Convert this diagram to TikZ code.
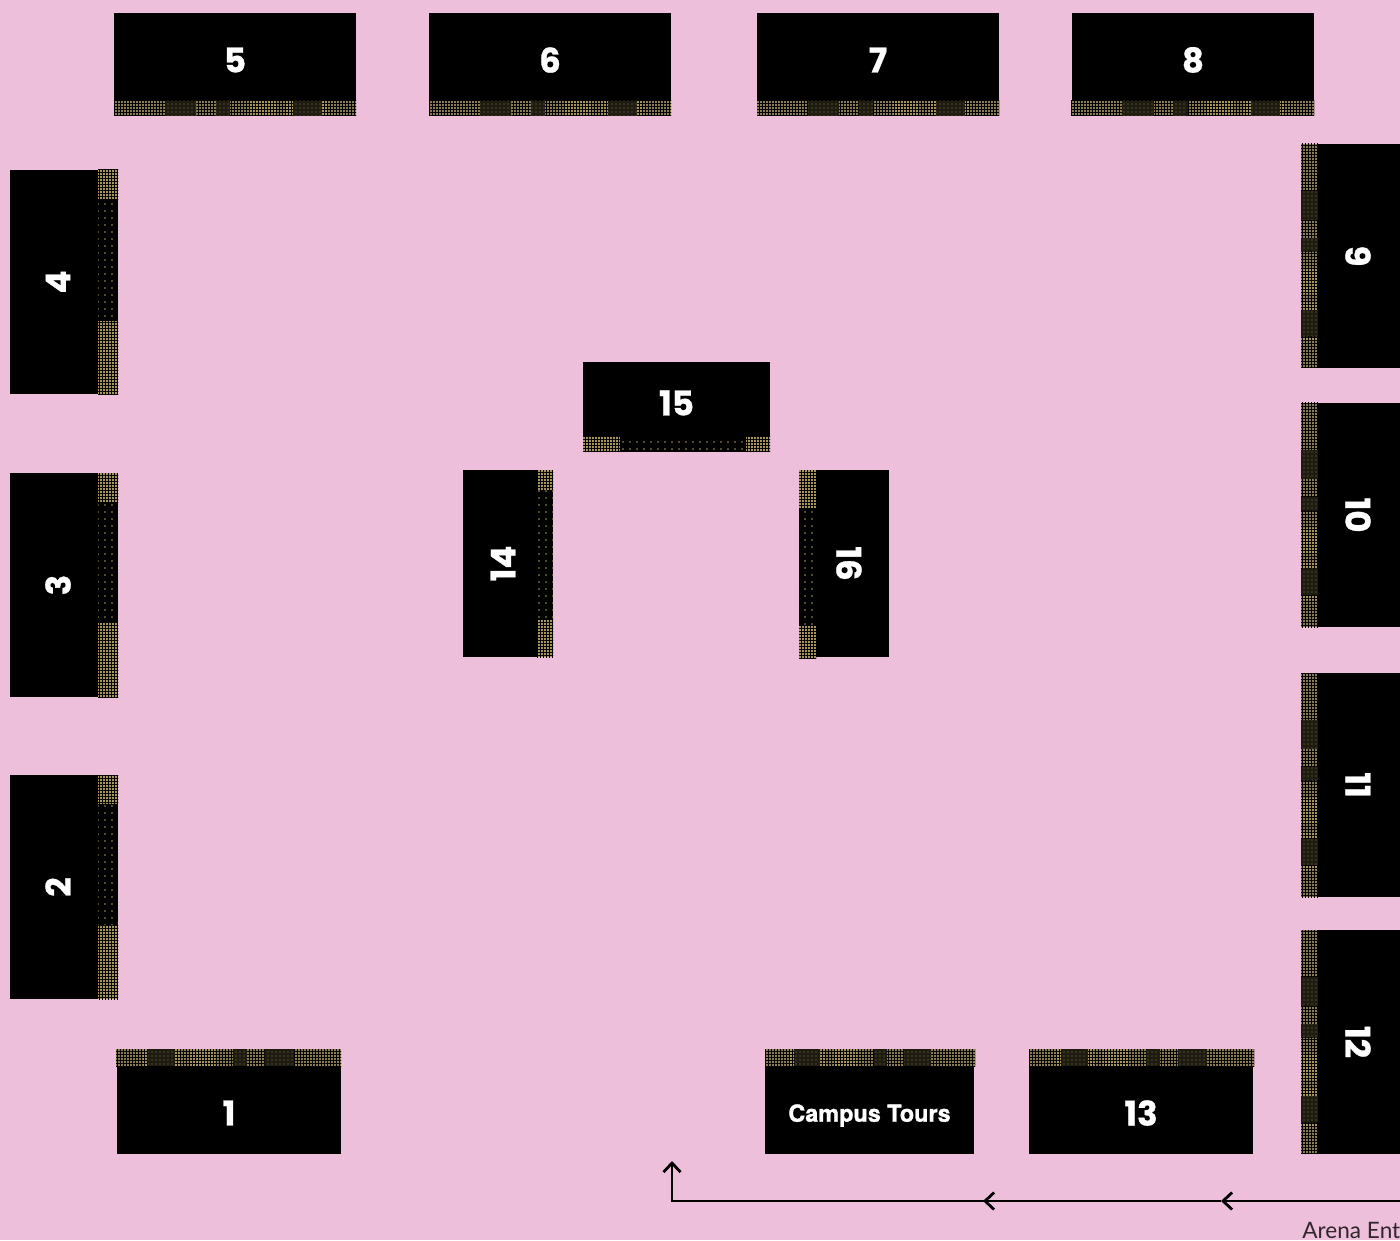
\documentclass[tikz,border=0pt]{standalone}
\usepackage{fontspec}
\setmainfont{Poppins}[BoldFeatures={FakeBold=0.8}]
\newfontfamily\signfont{Lato}
\newfontfamily\toursfont{TeX Gyre Heros}[BoldFeatures={FakeBold=1.2}]
\usetikzlibrary{calc,arrows.meta,patterns.meta}
\definecolor{floorpink}{HTML}{EEBFDA}
\definecolor{gold}{HTML}{A8955A}
\definecolor{olive}{HTML}{8A7B50}
\definecolor{murk}{HTML}{1E1B10}
\newcommand{\denselist}{0/.21/dull,.21/.34/dark,.34/.42/dull,.42/.48/dark,.48/.56/dull,.56/.67/bright,.67/.71/dull,.71/.74/bright,.74/.86/dark,.86/.88/bright,.88/1/dull}
\newcommand{\sidelist}{0/.13/bright,.13/.67/spark,.67/1/bright}
\newcommand{\frontlist}{0/.2/bright,.2/.87/spark,.87/1/bright}
\newcommand{\leftlist}{0/.11/bright,.11/.8/spark,.8/1/bright}
\newcommand{\rightlist}{0/.2/bright,.2/.83/spark,.83/1/bright}
% bands run from the first corner, tones follow that direction
\newcommand{\band}[5]{%
  \foreach \a/\b/\tone in #1 {\fill[\tone] ($(#2)!\a!(#3)$) rectangle ($(#4)!\b!(#5)$);}
}
\newcommand{\hband}[5]{\band{#1}{#2,#3}{#4,#3}{#2,#5}{#4,#5}}
\newcommand{\vband}[5]{\band{#1}{#2,#3}{#2,#5}{#4,#3}{#4,#5}}
\begin{document}
\begin{tikzpicture}[
    x=0.5pt, y=-0.5pt,
    stall/.style={fill=black, text=white, inner sep=0pt, font=\fontsize{17}{20}\selectfont\bfseries},
    wide/.style={stall, minimum width=121pt, minimum height=47pt},
    low/.style={stall, minimum width=112pt, minimum height=41pt},
    tall/.style={stall, minimum width=112pt, minimum height=48pt, rotate=90},
    rtall/.style={stall, minimum width=112pt, minimum height=44pt, rotate=-90},
    grainv/.style={postaction={pattern={Hatch[distance=1.5pt, line width=.2pt, angle=0]}, pattern color=black}},
    grainh/.style={postaction={pattern={Hatch[distance=1.5pt, line width=.2pt, angle=90]}, pattern color=black}},
    bright/.style={fill=gold, grainv, grainh},
    dull/.style={fill=olive, grainv, grainh},
    dark/.style={fill=murk, postaction={pattern={Dots[distance=2pt, radius=.3pt]}, pattern color=olive}},
    spark/.style={fill=black, postaction={pattern={Dots[distance=3.5pt, radius=.45pt]}, pattern color=gold}},
    arr/.style={-{Straight Barb[length=4.5pt, width=8.5pt]}, line width=1.4pt},
]
\useasboundingbox (0,0) rectangle (1400,1240);
\fill[floorpink] (0,0) rectangle (1400,1240);

% top row
\node[wide] (s5) at (235,60) {5};
\node[wide] (s6) at (550,60) {6};
\node[wide] (s7) at (878,60) {7};
\node[wide] (s8) at (1193,60) {8};
\hband{\denselist}{114}{101}{356}{116}
\hband{\denselist}{429}{101}{671}{116}
\hband{\denselist}{757}{101}{999}{116}
\hband{\denselist}{1071}{101}{1314}{116}

% left column
\node[tall] (s4) at (58,282) {4};
\node[tall] (s3) at (58,585) {3};
\node[tall] (s2) at (58,887) {2};
\vband{\sidelist}{98}{170}{118}{395}
\vband{\sidelist}{98}{473}{118}{697}
\vband{\sidelist}{98}{775}{118}{999}

% right column
\node[rtall] (s9) at (1358,256) {9};
\node[rtall] (s10) at (1358,515) {10};
\node[rtall] (s11) at (1358,785) {11};
\node[rtall] (s12) at (1358,1042) {12};
\vband{\denselist}{1301}{144}{1318}{368}
\vband{\denselist}{1301}{403}{1318}{627}
\vband{\denselist}{1301}{673}{1318}{897}
\vband{\denselist}{1301}{930}{1318}{1154}

% bottom row
\node[low] (s1) at (229,1113) {1};
\node[stall, minimum width=104.5pt, minimum height=41pt, text depth=0pt, font=\toursfont\fontsize{11.7}{14}\selectfont\bfseries] (tours) at (869.5,1113) {Campus Tours};
\node[low] (s13) at (1141,1113) {13};
\fill (117,1066) rectangle (341,1073);
\fill (765,1066) rectangle (974,1073);
\fill (1029,1066) rectangle (1253,1073);
\hband{\denselist}{341}{1049}{116}{1066}
\hband{\denselist}{975}{1049}{765}{1066}
\hband{\denselist}{1254}{1049}{1029}{1066}

% centre group
\node[stall, minimum width=93.5pt, minimum height=41pt] (s15) at (676.5,403) {15};
\node[stall, minimum width=93.5pt, minimum height=40pt, rotate=90] (s14) at (503,563.5) {14};
\node[stall, minimum width=93.5pt, minimum height=40pt, rotate=-90] (s16) at (849,563.5) {16};
\hband{\frontlist}{583}{436}{770}{452}
\vband{\leftlist}{537}{470}{553}{657}
\vband{\rightlist}{799}{470}{816}{658}

% route from the entrance
\coordinate (entry) at (1400,1201);
\coordinate (tipa) at (1221,1201);
\coordinate (tipb) at (983,1201);
\coordinate (corner) at (672,1201);
\coordinate (finish) at (672,1161);
\draw[arr] (entry) -- (tipa);
\draw[arr] (tipa) -- (tipb);
\draw[line width=1.4pt, line cap=rect] (tipb) -- (corner);
\draw[arr] (corner) -- (finish);
\node[anchor=base west, inner sep=0pt, font=\signfont\fontsize{11.3}{13}\selectfont, text=black!80!floorpink] (arena) at (1302,1238) {Arena Ent};
\end{tikzpicture}
\end{document}
